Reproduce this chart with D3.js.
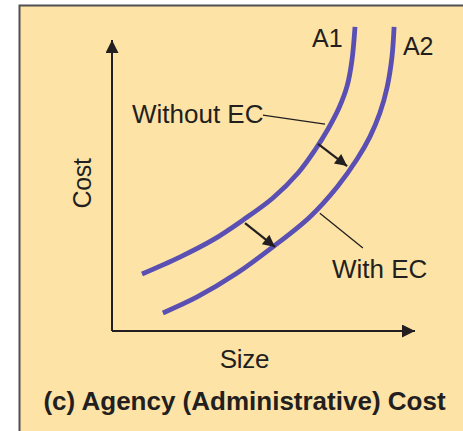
<!DOCTYPE html>
<html>
<head>
<meta charset="utf-8">
<script src="https://cdn.jsdelivr.net/npm/d3@7"></script>
<style>
  html, body { margin: 0; padding: 0; background: #fff; }
  svg { display: block; }
  text { font-family: "Liberation Sans", Arial, Helvetica, sans-serif; fill: #231f20; }
</style>
</head>
<body>
<div id="chart"></div>
<script>
// curve points, in abstract (size, cost) units 0..10
var sizeA1 = [0.99, 2.24, 3.33, 4.32, 5.31, 6.14, 6.70, 7.13, 7.49, 7.76, 7.92, 8.02];
var costA1 = [1.96, 2.54, 3.13, 3.81, 4.57, 5.43, 6.22, 6.94, 7.66, 8.42, 9.31, 10.45];
var sizeA2 = [1.68, 2.81, 4.13, 5.31, 6.53, 7.43, 8.09, 8.51, 8.84, 9.08, 9.24, 9.31];
var costA2 = [0.62, 1.17, 1.99, 2.89, 3.92, 4.95, 5.91, 6.67, 7.49, 8.38, 9.42, 10.45];

// shift arrows (from A1 towards A2): [x0, y0, x1, y1]
var shiftArrows = [
  [6.80, 6.43, 7.76, 5.67],
  [4.39, 3.71, 5.38, 2.89]
];

// callouts: label, leader line [x0,y0,x1,y1], label anchor
var calloutLabels = ["Without EC", "With EC"];
var calloutLines = [
  [4.98, 7.42, 7.03, 7.11],
  [6.86, 4.05, 8.28, 2.85]
];
var calloutPos = [[0.66, 7.15], [7.26, 1.82]];

var curveNames = ["A1", "A2"];
var curveNamePos = [[6.60, 9.76], [9.60, 9.49]];

var xTitle = "Size", yTitle = "Cost";
var panelTitle = "(c) Agency (Administrative) Cost";

var W = 463, H = 431;
var inkColor = "#231f20", curveColor = "#5a4fb3";

var svg = d3.select("#chart").append("svg")
    .attr("width", W)
    .attr("height", H);

// panel
svg.append("rect")
    .attr("x", 19.5).attr("y", 5.5)
    .attr("width", W).attr("height", H)
    .style("fill", "#fde3a6")
    .style("stroke", "#505050")
    .style("stroke-width", 2);

var x = d3.scaleLinear().domain([0, 10]).range([112, 415]);
var y = d3.scaleLinear().domain([0, 10]).range([331, 40]);

var defs = svg.append("defs");
defs.append("marker")
    .attr("id", "head")
    .attr("viewBox", "0 0 10 10")
    .attr("refX", 10).attr("refY", 5)
    .attr("markerUnits", "userSpaceOnUse")
    .attr("markerWidth", 15).attr("markerHeight", 12)
    .attr("orient", "auto")
  .append("path")
    .attr("d", "M0,0 L10,5 L0,10 z")
    .style("fill", inkColor);
defs.append("marker")
    .attr("id", "axhead")
    .attr("viewBox", "0 0 10 10")
    .attr("refX", 10).attr("refY", 5)
    .attr("markerUnits", "userSpaceOnUse")
    .attr("markerWidth", 22).attr("markerHeight", 13)
    .attr("orient", "auto")
  .append("path")
    .attr("d", "M0,0 L10,5 L0,10 z")
    .style("fill", inkColor);

// axes
svg.append("path")
    .attr("d", "M" + x(0) + "," + y(0) + "V" + y(10))
    .attr("marker-end", "url(#axhead)")
    .style("stroke", inkColor).style("stroke-width", 2).style("fill", "none");
svg.append("path")
    .attr("d", "M" + x(0) + "," + y(0) + "H" + x(10))
    .attr("marker-end", "url(#axhead)")
    .style("stroke", inkColor).style("stroke-width", 2).style("fill", "none");

// curves
var line = d3.line()
    .x(function(d) { return x(d[0]); })
    .y(function(d) { return y(d[1]); })
    .curve(d3.curveCatmullRom.alpha(0.5));

[d3.zip(sizeA1, costA1), d3.zip(sizeA2, costA2)].forEach(function(pts) {
  svg.append("path")
      .datum(pts)
      .attr("d", line)
      .style("fill", "none")
      .style("stroke", curveColor)
      .style("stroke-width", 4.8)
      .style("stroke-linecap", "butt");
});

// leader lines
svg.selectAll(".leader").data(calloutLines).enter().append("line")
    .attr("class", "leader")
    .attr("x1", d => x(d[0])).attr("y1", d => y(d[1]))
    .attr("x2", d => x(d[2])).attr("y2", d => y(d[3]))
    .style("stroke", inkColor).style("stroke-width", 1.3);

// shift arrows
svg.selectAll(".shift").data(shiftArrows).enter().append("line")
    .attr("class", "shift")
    .attr("x1", d => x(d[0])).attr("y1", d => y(d[1]))
    .attr("x2", d => x(d[2])).attr("y2", d => y(d[3]))
    .attr("marker-end", "url(#head)")
    .style("stroke", inkColor).style("stroke-width", 2.2);

// labels
svg.selectAll(".callout").data(calloutLabels).enter().append("text")
    .attr("class", "callout")
    .attr("x", (d, i) => x(calloutPos[i][0]))
    .attr("y", (d, i) => y(calloutPos[i][1]))
    .style("font-size", "26px")
    .text(d => d);

svg.selectAll(".cname").data(curveNames).enter().append("text")
    .attr("class", "cname")
    .attr("x", (d, i) => x(curveNamePos[i][0]))
    .attr("y", (d, i) => y(curveNamePos[i][1]))
    .style("font-size", "25px")
    .text(d => d);

svg.append("text")
    .attr("x", x(4.37)).attr("y", 368)
    .attr("text-anchor", "middle")
    .style("font-size", "26px")
    .style("letter-spacing", "-0.3px")
    .text(xTitle);

svg.append("text")
    .attr("transform", "translate(91," + y(5.07) + ") rotate(-90)")
    .attr("text-anchor", "middle")
    .style("font-size", "25px")
    .style("letter-spacing", "-0.3px")
    .text(yTitle);

svg.append("text")
    .attr("x", 244.5).attr("y", 410)
    .attr("text-anchor", "middle")
    .style("font-size", "26px")
    .style("font-weight", "bold")
    .text(panelTitle);
</script>
</body>
</html>
